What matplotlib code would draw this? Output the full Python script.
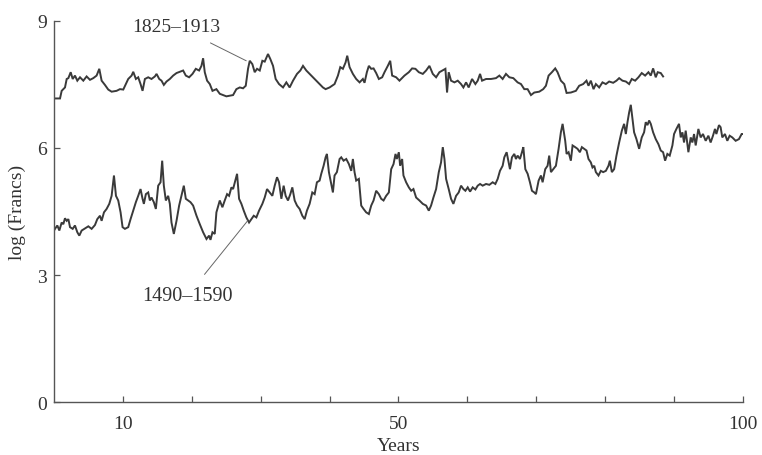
import matplotlib
matplotlib.use("Agg")
import matplotlib.pyplot as plt

# 1825-1913 series
years_late = [
    0.0, 0.87, 1.11, 1.59, 1.84, 2.08, 2.42, 2.71, 3.04, 3.38, 3.77, 4.25, 4.73, 5.22,
    5.70, 6.18, 6.57, 6.91, 7.39, 7.87, 8.36, 9.08, 9.57, 10.05, 10.43, 10.77, 11.26,
    11.50, 11.88, 12.22, 12.56, 12.85, 13.19, 13.67, 14.15, 14.64, 14.88, 15.27, 15.60,
    15.94, 16.33, 16.81, 17.29, 17.78, 18.26, 18.74, 19.13, 19.61, 20.10, 20.58, 21.06,
    21.40, 21.64, 21.88, 22.22, 22.61, 23.00, 23.57, 24.06, 24.54, 25.02, 25.99, 26.47,
    26.96, 27.44, 27.83, 28.16, 28.41, 28.79, 29.13, 29.47, 29.86, 30.24, 30.58, 31.06,
    31.40, 31.79, 32.17, 32.66, 33.24, 33.72, 34.20, 34.69, 35.27, 35.75, 36.14, 36.62,
    37.10, 37.58, 38.07, 38.55, 39.03, 39.42, 40.00, 40.72, 41.21, 41.55, 41.93, 42.32,
    42.56, 42.90, 43.38, 43.86, 44.35, 44.83, 45.07, 45.41, 45.70, 46.04, 46.38, 46.76,
    47.15, 47.63, 47.97, 48.45, 48.80, 49.08, 49.66, 50.14, 50.87, 51.50, 51.98, 52.46,
    52.95, 53.53, 54.01, 54.49, 54.98, 55.46, 55.94, 56.81, 57.05, 57.29, 57.63, 58.12,
    58.60, 59.08, 59.42, 59.81, 60.19, 60.68, 61.16, 61.50, 61.84, 62.13, 62.71, 63.43,
    64.15, 64.64, 65.12, 65.60, 66.09, 66.67, 67.29, 67.78, 68.26, 68.74, 69.23, 69.71,
    70.43, 71.01, 71.40, 71.79, 72.27, 72.75, 73.09, 73.57, 74.06, 74.40, 75.02, 75.75,
    76.23, 76.81, 77.29, 77.58, 77.92, 78.31, 78.65, 79.13, 79.61, 80.10, 80.58, 81.16,
    81.64, 82.03, 82.51, 83.00, 83.48, 83.86, 84.35, 84.83, 85.31, 85.80, 86.28, 86.62,
    86.96, 87.34, 87.63, 88.07, 88.41,
]
francs_late = [
    7.17, 7.17, 7.35, 7.43, 7.63, 7.65, 7.79, 7.63, 7.71, 7.59, 7.67, 7.59, 7.69, 7.61,
    7.65, 7.71, 7.87, 7.59, 7.49, 7.38, 7.33, 7.35, 7.39, 7.38, 7.51, 7.63, 7.71,
    7.80, 7.63, 7.67, 7.51, 7.35, 7.63, 7.67, 7.63, 7.69, 7.75, 7.63, 7.59,
    7.49, 7.57, 7.63, 7.71, 7.77, 7.80, 7.83, 7.71, 7.67, 7.75, 7.87, 7.83,
    7.94, 8.12, 7.79, 7.59, 7.51, 7.35, 7.39, 7.28, 7.25, 7.22, 7.25, 7.39,
    7.43, 7.41, 7.47, 7.87, 8.06, 7.98, 7.79, 7.87, 7.83, 8.06, 8.04, 8.22,
    8.10, 7.94, 7.63, 7.51, 7.43, 7.55, 7.43, 7.59, 7.75, 7.83, 7.94, 7.83,
    7.75, 7.67, 7.59, 7.51, 7.43, 7.39, 7.43, 7.51, 7.71, 7.91, 7.87, 8.02,
    8.18, 7.91, 7.75, 7.63, 7.55, 7.63, 7.54, 7.79, 7.94, 7.87, 7.88, 7.77,
    7.63, 7.67, 7.79, 7.94, 8.06, 7.71, 7.67, 7.59, 7.71, 7.79, 7.88, 7.87,
    7.79, 7.75, 7.83, 7.94, 7.75, 7.67, 7.79, 7.87, 7.31, 7.79, 7.59, 7.55,
    7.59, 7.51, 7.43, 7.55, 7.43, 7.63, 7.51, 7.59, 7.75, 7.59, 7.63, 7.63,
    7.65, 7.71, 7.63, 7.75, 7.67, 7.65, 7.55, 7.51, 7.39, 7.39, 7.25, 7.31,
    7.33, 7.39, 7.47, 7.71, 7.79, 7.88, 7.79, 7.59, 7.51, 7.30, 7.31, 7.35,
    7.47, 7.51, 7.59, 7.47, 7.59, 7.39, 7.51, 7.43, 7.55, 7.51, 7.57, 7.54,
    7.59, 7.65, 7.59, 7.57, 7.51, 7.63, 7.59, 7.67, 7.77, 7.71, 7.79, 7.71,
    7.88, 7.67, 7.79, 7.77, 7.69,
]

# 1490-1590 series
years_early = [
    0.0, 0.14, 0.48, 0.77, 1.11, 1.35, 1.59, 1.84, 2.08, 2.32, 2.71, 3.04, 3.38, 3.67,
    4.01, 4.49, 4.98, 5.46, 5.94, 6.28, 6.67, 6.91, 7.25, 7.63, 8.02, 8.36, 8.70, 8.99,
    9.32, 9.66, 9.95, 10.29, 10.77, 11.11, 11.50, 11.88, 12.22, 12.56, 12.85, 13.04,
    13.33, 13.67, 13.91, 14.15, 14.49, 14.78, 15.12, 15.46, 15.70, 15.94, 16.23, 16.57,
    16.81, 17.05, 17.39, 17.78, 18.16, 18.50, 18.84, 19.13, 19.47, 19.81, 20.19, 20.68,
    21.16, 21.64, 22.13, 22.51, 22.71, 23.00, 23.33, 23.57, 24.06, 24.44, 24.78, 25.12,
    25.41, 25.75, 25.99, 26.38, 26.57, 26.86, 27.20, 27.54, 27.92, 28.31, 28.65, 28.99,
    29.37, 29.76, 30.24, 30.58, 30.92, 31.30, 31.69, 32.03, 32.37, 32.66, 33.00, 33.33,
    33.62, 33.96, 34.30, 34.59, 34.93, 35.27, 35.65, 36.04, 36.38, 36.71, 37.10, 37.49,
    37.83, 38.16, 38.55, 38.79, 39.13, 39.42, 39.61, 39.90, 40.24, 40.48, 40.72, 41.06,
    41.45, 41.69, 42.03, 42.42, 42.80, 43.14, 43.38, 43.62, 43.86, 44.25, 44.59, 44.93,
    45.31, 45.70, 46.04, 46.38, 46.76, 47.15, 47.49, 47.83, 48.21, 48.60, 48.70, 48.94,
    49.28, 49.57, 49.76, 50.05, 50.24, 50.53, 50.72, 51.11, 51.50, 51.84, 52.17, 52.56,
    53.04, 53.53, 54.01, 54.40, 54.73, 55.07, 55.46, 55.85, 56.18, 56.43, 56.67, 56.91,
    57.29, 57.63, 57.97, 58.36, 58.74, 59.08, 59.42, 59.71, 60.05, 60.39, 60.77, 61.16,
    61.50, 61.84, 62.22, 62.71, 63.19, 63.67, 64.06, 64.40, 64.73, 65.12, 65.36, 65.70,
    65.99, 66.18, 66.47, 66.81, 67.05, 67.29, 67.63, 67.92, 68.12, 68.41, 68.75, 69.08,
    69.37, 69.71, 69.95, 70.34, 70.68, 70.92, 71.30, 71.64, 71.88, 72.13, 72.46, 72.85,
    73.24, 73.57, 73.82, 74.20, 74.40, 74.69, 75.02, 75.27, 75.65, 75.99, 76.33, 76.62,
    76.96, 77.29, 77.58, 77.92, 78.16, 78.41, 78.65, 79.03, 79.37, 79.71, 80.10, 80.48,
    80.68, 80.97, 81.30, 81.64, 82.03, 82.42, 82.75, 83.00, 83.24, 83.48, 83.72, 83.96,
    84.20, 84.54, 84.93, 85.31, 85.65, 85.89, 86.14, 86.38, 86.62, 86.96, 87.34, 87.73,
    88.07, 88.41, 88.70, 89.03, 89.37, 89.76, 90.00, 90.34, 90.72, 90.97, 91.21, 91.45,
    91.69, 92.08, 92.42, 92.66, 92.90, 93.14, 93.53, 93.86, 94.20, 94.59, 94.98, 95.31,
    95.65, 95.94, 96.14, 96.52, 96.76, 97.00, 97.39, 97.73, 98.07, 98.45, 98.94, 99.42,
    99.81, 100.0,
]
francs_early = [
    4.05, 4.09, 4.17, 4.05, 4.24, 4.20, 4.34, 4.28, 4.32, 4.13, 4.09, 4.17, 4.01, 3.93,
    4.05, 4.10, 4.15, 4.09, 4.18, 4.32, 4.40, 4.28, 4.48, 4.56, 4.68, 4.87, 5.35, 4.87,
    4.76, 4.48, 4.13, 4.09, 4.13, 4.32, 4.52, 4.72, 4.87, 5.03, 4.80, 4.68,
    4.91, 4.95, 4.76, 4.83, 4.72, 4.56, 5.11, 5.19, 5.70, 5.11, 4.76, 4.87,
    4.68, 4.24, 3.97, 4.28, 4.64, 4.87, 5.11, 4.80, 4.76, 4.72, 4.64, 4.40,
    4.20, 4.01, 3.85, 3.93, 3.83, 4.01, 3.97, 4.48, 4.76, 4.60, 4.76, 4.91,
    4.87, 5.07, 5.03, 5.27, 5.39, 4.80, 4.68, 4.52, 4.36, 4.24, 4.32, 4.40,
    4.36, 4.52, 4.68, 4.83, 5.03, 4.95, 4.87, 5.11, 5.31, 5.19, 4.80, 5.11,
    4.87, 4.76, 4.91, 5.07, 4.76, 4.64, 4.56, 4.40, 4.32, 4.52, 4.68, 4.95,
    4.91, 5.19, 5.23, 5.39, 5.58, 5.78, 5.86, 5.43, 5.15, 4.95, 5.35, 5.43,
    5.74, 5.78, 5.70, 5.74, 5.62, 5.46, 5.74, 5.43, 5.23, 5.27, 4.64, 4.56,
    4.48, 4.44, 4.64, 4.76, 4.99, 4.91, 4.80, 4.76, 4.87, 4.95, 5.11, 5.50,
    5.62, 5.86, 5.74, 5.90, 5.58, 5.74, 5.35, 5.19, 5.07, 4.99, 5.03, 4.83,
    4.76, 4.68, 4.64, 4.52, 4.64, 4.83, 5.03, 5.43, 5.66, 6.02, 5.74, 5.27,
    5.03, 4.80, 4.68, 4.87, 4.95, 5.11, 5.03, 4.99, 5.07, 4.97, 5.07, 5.02,
    5.11, 5.15, 5.11, 5.15, 5.13, 5.19, 5.15, 5.27, 5.46, 5.58, 5.78, 5.90,
    5.66, 5.50, 5.78, 5.86, 5.74, 5.82, 5.74, 5.90, 6.02, 5.50, 5.39, 5.19,
    4.99, 4.95, 4.91, 5.23, 5.35, 5.19, 5.50, 5.58, 5.82, 5.43, 5.50, 5.58,
    5.98, 6.37, 6.57, 6.17, 5.86, 5.90, 5.70, 6.06, 6.02, 5.98, 5.90, 6.02,
    5.98, 5.94, 5.74, 5.66, 5.54, 5.58, 5.43, 5.35, 5.46, 5.43, 5.46, 5.58,
    5.70, 5.43, 5.50, 5.82, 6.13, 6.41, 6.57, 6.33, 6.61, 6.84, 7.02, 6.69,
    6.37, 6.21, 5.98, 6.25, 6.37, 6.61, 6.54, 6.65, 6.57, 6.37, 6.21, 6.09,
    5.94, 5.90, 5.70, 5.86, 5.82, 6.06, 6.33, 6.45, 6.57, 6.25, 6.37, 6.13,
    6.41, 5.90, 6.25, 6.13, 6.33, 6.06, 6.45, 6.25, 6.33, 6.17, 6.29, 6.13,
    6.29, 6.45, 6.33, 6.54, 6.49, 6.25, 6.33, 6.17, 6.29, 6.25, 6.17, 6.21,
    6.33, 6.33,
]

x_ticks = list(range(10, 101, 10))
x_tick_labels = ["10" if t == 10 else "50" if t == 50 else "100" if t == 100 else "" for t in x_ticks]
y_ticks = [0, 3, 6, 9]

plt.rcParams["font.family"] = ["Liberation Serif", "DejaVu Serif"]
ink = "#3a3a3a"
axis_col = "#555555"

fig = plt.figure(figsize=(7.62, 4.56), dpi=100)
ax = fig.add_axes([0.0709, 0.1162, 0.9041, 0.8356])

ax.plot(years_late, francs_late, color=ink, lw=1.4, solid_joinstyle="miter")
ax.plot(years_early, francs_early, color=ink, lw=1.4, solid_joinstyle="miter")

ax.annotate("1825–1913", xy=(27.9, 8.06), xytext=(17.8, 8.88),
            ha="center", va="center", fontsize=14, color="#333333",
            arrowprops=dict(arrowstyle="-", color="#666666", lw=0.7,
                            shrinkA=9, shrinkB=0))
ax.annotate("1490–1590", xy=(28.1, 4.28), xytext=(19.4, 2.52),
            ha="center", va="center", fontsize=14.5, color="#333333",
            arrowprops=dict(arrowstyle="-", color="#666666", lw=0.7,
                            shrinkA=8, shrinkB=0))

ax.set_xlim(0, 100)
ax.set_ylim(0, 9)
ax.set_xticks(x_ticks)
ax.set_xticklabels(x_tick_labels)
ax.set_yticks(y_ticks)
ax.tick_params(direction="in", length=4, width=0.9, color=axis_col,
               labelsize=14, labelcolor="#333333")
ax.tick_params(axis="x", pad=9)
ax.tick_params(axis="y", pad=5)

for side in ("top", "right"):
    ax.spines[side].set_visible(False)
for side in ("left", "bottom"):
    ax.spines[side].set_color(axis_col)
    ax.spines[side].set_linewidth(1.0)

ax.set_xlabel("Years", fontsize=14, color="#333333", labelpad=4)
ax.set_ylabel("log (Francs)", fontsize=14, color="#333333", labelpad=8)

fig.savefig("out.png", dpi=100)
